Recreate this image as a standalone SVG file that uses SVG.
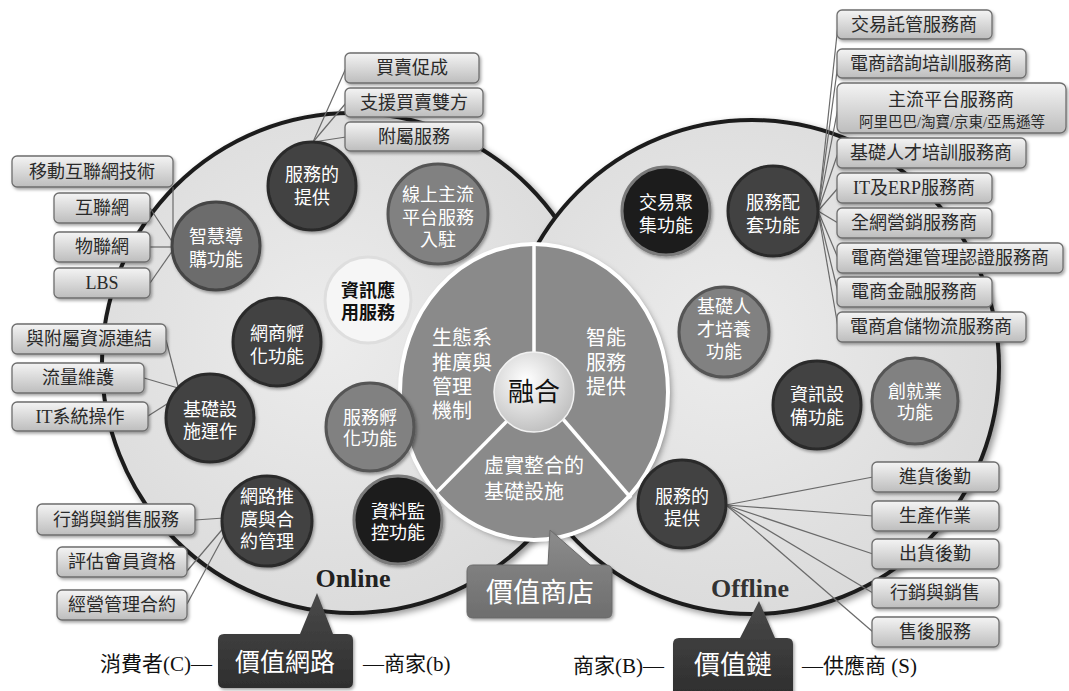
<svg xmlns="http://www.w3.org/2000/svg" width="1069" height="691" viewBox="0 0 1069 691">
<defs>
<style>
text{font-family:"Liberation Serif","Noto Sans CJK TC",serif;}
.bx{fill:url(#gBox);stroke:#6e6e6e;stroke-width:1.3;filter:url(#sh);}
.bt{font-size:18px;fill:#2a2a2a;text-anchor:middle;}
.bs{font-size:14.5px;fill:#2a2a2a;text-anchor:middle;}
.nt{font-size:18px;fill:#fff;text-anchor:middle;}
.ndark{fill:#434343;stroke:#2c2c2c;stroke-width:3;filter:url(#sh);}
.nblack{fill:#1c1c1c;stroke:#7a7a7a;stroke-width:3;filter:url(#sh);}
.nmid{fill:#818181;stroke:#555;stroke-width:3;filter:url(#sh);}
.nmd{fill:#6c6c6c;stroke:#444;stroke-width:3;filter:url(#sh);}
.ct{font-size:20px;fill:#fff;}
.lbl{font-size:21px;fill:#111;}
#conn line{stroke:#6a6a6a;stroke-width:1.2;}
</style>
<linearGradient id="gBox" x1="0" y1="0" x2="0" y2="1">
<stop offset="0" stop-color="#f4f4f4"/><stop offset="1" stop-color="#bdbdbd"/>
</linearGradient>
<radialGradient id="gBig" cx="0.45" cy="0.45" r="0.6">
<stop offset="0" stop-color="#ececec"/><stop offset="1" stop-color="#dadada"/>
</radialGradient>
<radialGradient id="gFuse" cx="0.4" cy="0.35" r="0.7">
<stop offset="0" stop-color="#ffffff"/><stop offset="1" stop-color="#bdbdbd"/>
</radialGradient>
<linearGradient id="gDark" x1="0" y1="0" x2="0" y2="1">
<stop offset="0" stop-color="#4a4a4a"/><stop offset="1" stop-color="#2e2e2e"/>
</linearGradient>
<linearGradient id="gMidC" x1="0" y1="0" x2="0" y2="1">
<stop offset="0" stop-color="#8c8c8c"/><stop offset="1" stop-color="#6e6e6e"/>
</linearGradient>
<filter id="sh" x="-20%" y="-20%" width="150%" height="150%">
<feDropShadow dx="1.5" dy="2" stdDeviation="1.5" flood-color="#000" flood-opacity="0.35"/>
</filter>
<filter id="shBig" x="-10%" y="-10%" width="125%" height="125%">
<feDropShadow dx="3" dy="3" stdDeviation="3" flood-color="#000" flood-opacity="0.4"/>
</filter>
</defs>
<rect width="1069" height="691" fill="#fff"/>

<g id="online-circle">
<circle cx="352" cy="363" r="250" fill="url(#gBig)" stroke="#1e1e1e" stroke-width="4" filter="url(#shBig)"/>
</g>
<g id="offline-circle">
<circle cx="752" cy="367" r="247" fill="url(#gBig)" stroke="#1e1e1e" stroke-width="4" filter="url(#shBig)"/>
</g>

<g id="value-shop-core">
<ellipse cx="534" cy="392" rx="134" ry="148" fill="#8a8a8a" filter="url(#shBig)"/>
<g stroke="#fff" stroke-width="3.5">
<line x1="534" y1="246" x2="534" y2="355"/>
<line x1="508" y1="420" x2="434" y2="495"/>
<line x1="562" y1="418" x2="631" y2="498"/>
</g>
<ellipse cx="534" cy="392" rx="134" ry="148" fill="none" stroke="#fff" stroke-width="4"/>
<circle cx="534" cy="392" r="40" fill="url(#gFuse)" stroke="#f2f2f2" stroke-width="1.5"/>
<text x="534" y="401" font-size="26" fill="#111" text-anchor="middle">融合</text>
<text class="ct" x="432"><tspan x="432" y="345">生態系</tspan><tspan x="432" y="370">推廣與</tspan><tspan x="432" y="394">管理</tspan><tspan x="432" y="418">機制</tspan></text>
<text class="ct"><tspan x="586" y="345">智能</tspan><tspan x="586" y="370">服務</tspan><tspan x="586" y="394">提供</tspan></text>
<text class="ct"><tspan x="484" y="473">虛實整合的</tspan><tspan x="484" y="499">基礎設施</tspan></text>
</g>

<g id="conn">
<line x1="313" y1="142" x2="346" y2="68"/>
<line x1="313" y1="142" x2="346" y2="103"/>
<line x1="313" y1="142" x2="346" y2="137"/>
<line x1="173" y1="187" x2="173" y2="243"/>
<line x1="150" y1="208" x2="173" y2="243"/>
<line x1="150" y1="247" x2="173" y2="247"/>
<line x1="150" y1="283" x2="173" y2="250"/>
<line x1="166" y1="340" x2="178" y2="386"/>
<line x1="144" y1="378" x2="178" y2="388"/>
<line x1="148" y1="416" x2="178" y2="397"/>
<line x1="195" y1="520" x2="224" y2="518"/>
<line x1="187" y1="571" x2="226" y2="525"/>
<line x1="187" y1="604" x2="228" y2="528"/>
<line x1="818" y1="211" x2="838" y2="25"/>
<line x1="818" y1="211" x2="838" y2="64"/>
<line x1="818" y1="211" x2="838" y2="108"/>
<line x1="818" y1="211" x2="838" y2="153"/>
<line x1="818" y1="211" x2="838" y2="188"/>
<line x1="818" y1="211" x2="838" y2="223"/>
<line x1="818" y1="211" x2="838" y2="258"/>
<line x1="818" y1="211" x2="838" y2="292"/>
<line x1="818" y1="211" x2="838" y2="327"/>
<line x1="726" y1="505" x2="873" y2="477"/>
<line x1="726" y1="505" x2="873" y2="516"/>
<line x1="726" y1="505" x2="873" y2="554"/>
<line x1="726" y1="505" x2="873" y2="593"/>
<line x1="726" y1="505" x2="873" y2="632"/>
</g>

<g id="n-online-fuwu"><circle class="ndark" cx="312" cy="186" r="44"/><text class="nt"><tspan x="312" y="181">服務的</tspan><tspan x="312" y="204">提供</tspan></text></g>
<g id="n-xianshang"><circle class="nmid" cx="438" cy="214" r="50"/><text class="nt"><tspan x="438" y="201">線上主流</tspan><tspan x="438" y="224">平台服務</tspan><tspan x="438" y="246">入駐</tspan></text></g>
<g id="n-zixun"><circle cx="368" cy="300" r="43" fill="#f6f6f6" stroke="#dedede" stroke-width="3"/><text font-size="18" font-weight="bold" fill="#111" text-anchor="middle"><tspan x="368" y="297">資訊應</tspan><tspan x="368" y="319">用服務</tspan></text></g>
<g id="n-zhihui"><circle class="nmd" cx="216" cy="246" r="44"/><text class="nt"><tspan x="216" y="243">智慧導</tspan><tspan x="216" y="266">購功能</tspan></text></g>
<g id="n-wangshang"><circle class="ndark" cx="277" cy="342" r="44"/><text class="nt"><tspan x="277" y="340">網商孵</tspan><tspan x="277" y="363">化功能</tspan></text></g>
<g id="n-jichu"><circle class="ndark" cx="210" cy="418" r="44"/><text class="nt"><tspan x="210" y="416">基礎設</tspan><tspan x="210" y="438">施運作</tspan></text></g>
<g id="n-fuwufuhua"><circle class="nmid" cx="370" cy="427" r="44"/><text class="nt"><tspan x="370" y="424">服務孵</tspan><tspan x="370" y="445">化功能</tspan></text></g>
<g id="n-wanglu"><circle class="ndark" cx="267" cy="521" r="45"/><text class="nt"><tspan x="267" y="503">網路推</tspan><tspan x="267" y="526">廣與合</tspan><tspan x="267" y="548">約管理</tspan></text></g>
<g id="n-ziliao"><circle class="nblack" cx="398" cy="520" r="44"/><text class="nt"><tspan x="398" y="518">資料監</tspan><tspan x="398" y="539">控功能</tspan></text></g>

<g id="n-jiaoyi"><circle class="nblack" cx="666" cy="211" r="44"/><text class="nt"><tspan x="666" y="209">交易聚</tspan><tspan x="666" y="232">集功能</tspan></text></g>
<g id="n-peitao"><circle class="ndark" cx="773" cy="211" r="45"/><text class="nt"><tspan x="773" y="209">服務配</tspan><tspan x="773" y="232">套功能</tspan></text></g>
<g id="n-rencai"><circle class="nmid" cx="724" cy="332" r="45"/><text class="nt"><tspan x="724" y="313">基礎人</tspan><tspan x="724" y="336">才培養</tspan><tspan x="724" y="358">功能</tspan></text></g>
<g id="n-zixunshebei"><circle class="ndark" cx="817" cy="405" r="44"/><text class="nt"><tspan x="817" y="401">資訊設</tspan><tspan x="817" y="424">備功能</tspan></text></g>
<g id="n-chuangye"><circle class="nmid" cx="915" cy="401" r="43"/><text class="nt"><tspan x="915" y="398">創就業</tspan><tspan x="915" y="419">功能</tspan></text></g>
<g id="n-offline-fuwu"><circle class="ndark" cx="682" cy="504" r="44"/><text class="nt"><tspan x="682" y="503">服務的</tspan><tspan x="682" y="525">提供</tspan></text></g>

<g id="b-maimai"><rect class="bx" x="345" y="53" width="134" height="30" rx="5"/><text class="bt" x="412" y="74">買賣促成</text></g>
<g id="b-zhiyuan"><rect class="bx" x="345" y="88" width="138" height="29" rx="5"/><text class="bt" x="414" y="109">支援買賣雙方</text></g>
<g id="b-fushu"><rect class="bx" x="345" y="122" width="138" height="29" rx="5"/><text class="bt" x="414" y="143">附屬服務</text></g>

<g id="b-yidong"><rect class="bx" x="12" y="156" width="161" height="31" rx="5"/><text class="bt" x="92" y="178">移動互聯網技術</text></g>
<g id="b-hulian"><rect class="bx" x="54" y="193" width="96" height="30" rx="5"/><text class="bt" x="102" y="214">互聯網</text></g>
<g id="b-wulian"><rect class="bx" x="54" y="232" width="96" height="30" rx="5"/><text class="bt" x="102" y="253">物聯網</text></g>
<g id="b-lbs"><rect class="bx" x="54" y="268" width="96" height="30" rx="5"/><text class="bt" x="102" y="289">LBS</text></g>

<g id="b-lianjie"><rect class="bx" x="12" y="324" width="154" height="30" rx="5"/><text class="bt" x="89" y="345">與附屬資源連結</text></g>
<g id="b-liuliang"><rect class="bx" x="12" y="363" width="132" height="30" rx="5"/><text class="bt" x="78" y="384">流量維護</text></g>
<g id="b-it"><rect class="bx" x="12" y="402" width="136" height="29" rx="5"/><text class="bt" x="80" y="423">IT系統操作</text></g>

<g id="b-xiaoshou"><rect class="bx" x="37" y="504" width="158" height="31" rx="5"/><text class="bt" x="116" y="526">行銷與銷售服務</text></g>
<g id="b-pinggu"><rect class="bx" x="57" y="547" width="130" height="30" rx="5"/><text class="bt" x="122" y="568">評估會員資格</text></g>
<g id="b-jingying"><rect class="bx" x="57" y="590" width="130" height="30" rx="5"/><text class="bt" x="122" y="611">經營管理合約</text></g>

<g id="b-tuoguan"><rect class="bx" x="837" y="10" width="155" height="29" rx="5"/><text class="bt" x="914" y="31">交易託管服務商</text></g>
<g id="b-zixun"><rect class="bx" x="837" y="49" width="189" height="29" rx="5"/><text class="bt" x="931" y="70">電商諮詢培訓服務商</text></g>
<g id="b-zhuliu"><rect class="bx" x="837" y="83" width="229" height="50" rx="6"/><text class="bt" x="951" y="106">主流平台服務商</text><text class="bs" x="952" y="127">阿里巴巴/淘寶/京東/亞馬遜等</text></g>
<g id="b-rencai"><rect class="bx" x="837" y="138" width="189" height="30" rx="5"/><text class="bt" x="931" y="159">基礎人才培訓服務商</text></g>
<g id="b-erp"><rect class="bx" x="837" y="173" width="155" height="30" rx="5"/><text class="bt" x="914" y="194">IT及ERP服務商</text></g>
<g id="b-yingxiao"><rect class="bx" x="837" y="208" width="155" height="30" rx="5"/><text class="bt" x="914" y="229">全網營銷服務商</text></g>
<g id="b-renzheng"><rect class="bx" x="837" y="243" width="226" height="30" rx="5"/><text class="bt" x="950" y="264">電商營運管理認證服務商</text></g>
<g id="b-jinrong"><rect class="bx" x="837" y="277" width="155" height="30" rx="5"/><text class="bt" x="914" y="298">電商金融服務商</text></g>
<g id="b-wuliu"><rect class="bx" x="837" y="312" width="189" height="30" rx="5"/><text class="bt" x="931" y="333">電商倉儲物流服務商</text></g>

<g id="b-jinhuo"><rect class="bx" x="872" y="462" width="127" height="30" rx="5"/><text class="bt" x="935" y="483">進貨後勤</text></g>
<g id="b-shengchan"><rect class="bx" x="872" y="501" width="127" height="30" rx="5"/><text class="bt" x="935" y="522">生產作業</text></g>
<g id="b-chuhuo"><rect class="bx" x="872" y="539" width="127" height="30" rx="5"/><text class="bt" x="935" y="560">出貨後勤</text></g>
<g id="b-xiaoshou2"><rect class="bx" x="872" y="578" width="127" height="30" rx="5"/><text class="bt" x="935" y="599">行銷與銷售</text></g>
<g id="b-shouhou"><rect class="bx" x="872" y="617" width="127" height="30" rx="5"/><text class="bt" x="935" y="638">售後服務</text></g>

<g id="label-online"><text x="353" y="587" font-size="26" font-weight="bold" fill="#222" text-anchor="middle">Online</text></g>
<g id="label-offline"><text x="750" y="597" font-size="26" font-weight="bold" fill="#333" text-anchor="middle">Offline</text></g>

<g id="callout-shop">
<path d="M473,565 H548 L550,530 L590,565 H606 Q612,565 612,571 V612 Q612,618 606,618 H473 Q467,618 467,612 V571 Q467,565 473,565 Z" fill="url(#gMidC)" stroke="#6a6a6a" stroke-width="1" filter="url(#sh)"/>
<text x="540" y="602" font-size="27" fill="#fff" text-anchor="middle">價值商店</text>
</g>
<g id="callout-network">
<path d="M224,634 H300 L317,593 L333,634 H347 Q353,634 353,640 V682 Q353,688 347,688 H224 Q218,688 218,682 V640 Q218,634 224,634 Z" fill="url(#gDark)" filter="url(#sh)"/>
<text x="285" y="671" font-size="25" fill="#fff" text-anchor="middle">價值網路</text>
</g>
<g id="callout-chain">
<path d="M679,638 H740 L759,601 L775,638 H787 Q793,638 793,644 V695 H673 V644 Q673,638 679,638 Z" fill="url(#gDark)" filter="url(#sh)"/>
<text x="733" y="674" font-size="26" fill="#fff" text-anchor="middle">價值鏈</text>
</g>

<g id="side-labels">
<text class="lbl" x="100" y="671">消費者(C)—</text>
<text class="lbl" x="363" y="671">—商家(b)</text>
<text class="lbl" x="573" y="673">商家(B)—</text>
<text class="lbl" x="802" y="673">—供應商 (S)</text>
</g>
</svg>
